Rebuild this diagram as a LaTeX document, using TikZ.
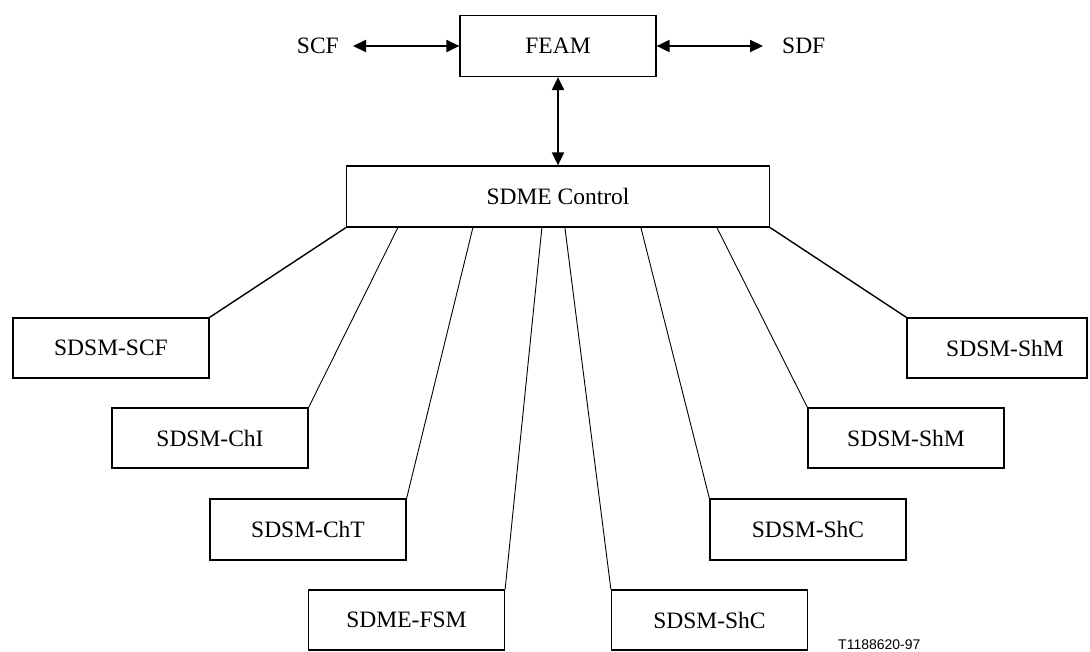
\documentclass[tikz,border=0pt]{standalone}
\usepackage{fontspec}
\setmainfont{Liberation Serif}
\setsansfont{Liberation Sans}
\usetikzlibrary{arrows.meta,calc}
\begin{document}
\begin{tikzpicture}[x=1pt,y=-1pt,
  box/.style={draw,line width=1.2pt,minimum width=196pt,minimum height=60pt,inner sep=0pt,font=\fontsize{23.5}{27}\selectfont},
  lbl/.style={inner sep=0pt,font=\fontsize{23.5}{27}\selectfont},
  link/.style={line width=0.9pt},
  outerlink/.style={line width=1.4pt},
  biarrow/.style={line width=2pt,{Triangle[length=13pt,width=12pt]}-{Triangle[length=13pt,width=12pt]}}]
\useasboundingbox (0,0) rectangle (1090,652);
\fill[white] (0,0) rectangle (1090,652);

\node[box,minimum height=61pt] (feam) at (558,46) {FEAM};
\node[box,minimum width=423pt,minimum height=61pt] (ctl) at (558,196.5) {SDME Control};
\node[lbl,anchor=east] (scf) at (339,46) {SCF};
\node[lbl,anchor=west] (sdf) at (782,46) {SDF};

\draw[biarrow,shorten <=14pt] (scf) -- (feam);
\draw[biarrow,shorten >=19pt] (feam) -- (sdf);
\draw[biarrow] (feam) -- (ctl);

\node[box] (scfm) at (111,348) {SDSM-SCF};
\node[box] (chi) at (210,438) {SDSM-ChI};
\node[box,minimum height=61pt] (cht) at (308,529.5) {SDSM-ChT};
\node[box] (fsm) at (406.5,620) {SDME-FSM};
\node[box] (shc1) at (709.5,620) {SDSM-ShC};
\node[box,minimum height=61pt] (shc2) at (808,529.5) {SDSM-ShC};
\node[box] (shm1) at (906,438) {SDSM-ShM};
\node[box,minimum width=180pt] (shm2) at (997,348) {\hspace*{16pt}SDSM-ShM};

\coordinate (a1) at (ctl.south west);
\coordinate (a2) at ([xshift=52pt]ctl.south west);
\coordinate (a3) at ([xshift=127pt]ctl.south west);
\coordinate (a4) at ([xshift=196pt]ctl.south west);
\coordinate (a5) at ([xshift=219pt]ctl.south west);
\coordinate (a6) at ([xshift=295pt]ctl.south west);
\coordinate (a7) at ([xshift=371pt]ctl.south west);
\coordinate (a8) at (ctl.south east);

\draw[outerlink] (a1) -- (scfm.north east);
\draw[link] (a2) -- (chi.north east);
\draw[link] (a3) -- (cht.north east);
\draw[link] (a4) -- (fsm.north east);
\draw[link] (a5) -- (shc1.north west);
\draw[link] (a6) -- (shc2.north west);
\draw[link] (a7) -- (shm1.north west);
\draw[outerlink] (a8) -- (shm2.north west);

\node[font=\sffamily\fontsize{14}{16}\selectfont,anchor=base west,inner sep=0pt] (code) at (838,649) {T1188620-97};
\end{tikzpicture}
\end{document}
